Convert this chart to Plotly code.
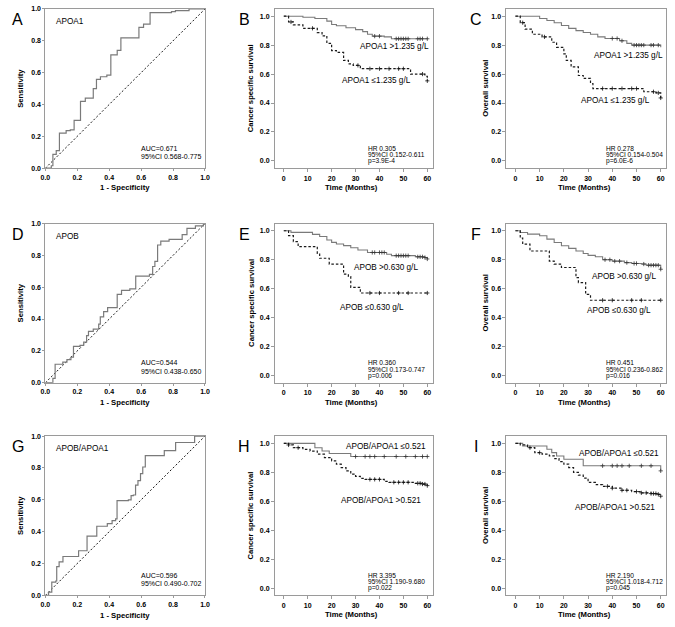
import numpy as np
import plotly.graph_objects as go

W, H = 675, 627

# ---------------- ROC data ----------------
fpr_A = [0, 0.037, 0.047, 0.068, 0.088, 0.13, 0.156, 0.18, 0.22, 0.25, 0.30, 0.32, 0.345, 0.385, 0.41, 0.45, 0.473, 0.586, 0.615, 0.656, 0.79, 0.815, 0.90, 1.0]
tpr_A = [0, 0.015, 0.087, 0.11, 0.22, 0.236, 0.24, 0.30, 0.42, 0.44, 0.50, 0.557, 0.574, 0.584, 0.712, 0.74, 0.818, 0.884, 0.905, 0.977, 0.983, 0.99, 1.0, 1.0]

fpr_D = [0, 0.047, 0.061, 0.109, 0.135, 0.16, 0.176, 0.217, 0.24, 0.258, 0.27, 0.30, 0.334, 0.344, 0.365, 0.39, 0.45, 0.477, 0.529, 0.566, 0.652, 0.672, 0.686, 0.703, 0.723, 0.775, 0.857, 0.887, 0.94, 0.99, 1.0]
tpr_D = [0, 0.027, 0.116, 0.13, 0.145, 0.16, 0.228, 0.235, 0.255, 0.296, 0.323, 0.337, 0.368, 0.414, 0.447, 0.472, 0.555, 0.58, 0.59, 0.669, 0.68, 0.73, 0.762, 0.865, 0.89, 0.9, 0.93, 0.97, 0.985, 1.0, 1.0]

fpr_G = [0, 0.02, 0.04, 0.065, 0.071, 0.086, 0.11, 0.208, 0.261, 0.322, 0.388, 0.418, 0.44, 0.449, 0.52, 0.537, 0.551, 0.565, 0.58, 0.596, 0.61, 0.626, 0.745, 0.816, 0.935, 1.0]
tpr_G = [0, 0.02, 0.083, 0.09, 0.18, 0.21, 0.244, 0.28, 0.372, 0.434, 0.45, 0.469, 0.48, 0.595, 0.60, 0.626, 0.63, 0.692, 0.72, 0.764, 0.806, 0.878, 0.909, 0.96, 1.0, 1.0]

# ---------------- Kaplan-Meier data ----------------
t_B_hi = [0, 8, 13, 18, 20, 22, 26, 30, 33, 35, 37, 42, 45, 60]
s_B_hi = [1, 0.993, 0.984, 0.966, 0.943, 0.934, 0.92, 0.907, 0.893, 0.875, 0.862, 0.857, 0.844, 0.844]
c_B_hi = [38, 40, 47, 48, 49, 50, 51, 52, 56, 57, 58, 60]
t_B_lo = [0, 2, 4, 8, 14, 16, 18, 20, 22, 25, 27, 29, 32, 53, 59, 60]
s_B_lo = [1, 0.96, 0.94, 0.916, 0.887, 0.864, 0.812, 0.762, 0.75, 0.694, 0.67, 0.66, 0.637, 0.6, 0.585, 0.553]
c_B_lo = [3, 12, 31, 36, 40, 44, 48, 50, 58, 60]

t_C_hi = [0, 10, 13, 16, 19, 22, 25, 28, 31, 34, 37, 43, 46, 48, 60]
s_C_hi = [1, 0.984, 0.97, 0.955, 0.936, 0.916, 0.90, 0.887, 0.875, 0.857, 0.846, 0.83, 0.812, 0.80, 0.785]
c_C_hi = [40, 42, 44, 49, 50, 51, 52, 53, 56, 57, 59]
t_C_lo = [0, 2, 4, 7, 11, 15, 17, 20, 21, 23, 26, 28, 31, 32, 53, 58, 60]
s_C_lo = [1, 0.955, 0.91, 0.875, 0.857, 0.82, 0.785, 0.74, 0.694, 0.65, 0.59, 0.57, 0.535, 0.50, 0.478, 0.47, 0.435]
c_C_lo = [3, 12, 36, 40, 44, 48, 50, 57, 59, 60]

t_E_hi = [0, 3, 12, 15, 18, 20, 22, 25, 28, 31, 35, 43, 45, 55, 59, 60]
s_E_hi = [1, 0.989, 0.975, 0.96, 0.936, 0.92, 0.908, 0.897, 0.883, 0.867, 0.85, 0.838, 0.828, 0.82, 0.815, 0.805]
c_E_hi = [37, 38, 40, 41, 42, 47, 48, 49, 50, 51, 52, 56, 57, 58, 59, 60]
t_E_lo = [0, 2, 4, 6, 14, 15, 19, 25, 27, 28, 32, 60]
s_E_lo = [1, 0.966, 0.925, 0.89, 0.844, 0.81, 0.769, 0.70, 0.684, 0.609, 0.57, 0.57]
c_E_lo = [36, 40, 48, 52, 60]

t_F_hi = [0, 2, 5, 10, 13, 16, 19, 22, 25, 28, 30, 33, 36, 40, 45, 48, 52, 54, 60]
s_F_hi = [1, 0.988, 0.977, 0.965, 0.942, 0.919, 0.896, 0.878, 0.86, 0.843, 0.83, 0.82, 0.80, 0.79, 0.78, 0.774, 0.77, 0.762, 0.734]
c_F_hi = [37, 39, 41, 43, 46, 49, 50, 53, 55, 56, 57, 58, 59, 60]
t_F_lo = [0, 2, 3, 6, 14, 16, 19, 25, 26, 29, 31, 60]
s_F_lo = [1, 0.95, 0.908, 0.86, 0.79, 0.77, 0.746, 0.676, 0.642, 0.56, 0.52, 0.52]
c_F_lo = [36, 40, 48, 52, 60]

t_H_lo = [0, 13, 16, 19, 28, 60]
s_H_lo = [1, 0.97, 0.947, 0.93, 0.909, 0.909]
c_H_lo = [30, 34, 36, 38, 42, 47, 51, 55, 58, 60]
t_H_hi = [0, 2, 4, 8, 11, 14, 17, 20, 22, 24, 26, 28, 30, 32, 34, 42, 44, 55, 58, 60]
s_H_hi = [1, 0.989, 0.97, 0.959, 0.947, 0.925, 0.902, 0.879, 0.856, 0.833, 0.81, 0.788, 0.772, 0.758, 0.751, 0.737, 0.731, 0.724, 0.719, 0.708]
c_H_hi = [2, 6, 36, 38, 40, 46, 48, 50, 52, 56, 57, 58, 59, 60]

t_I_lo = [0, 3, 13, 15, 17, 20, 28, 59, 60]
s_I_lo = [1, 0.982, 0.959, 0.936, 0.913, 0.89, 0.845, 0.845, 0.81]
c_I_lo = [36, 40, 42, 44, 47, 52, 56, 60]
t_I_hi = [0, 2, 5, 8, 11, 14, 16, 18, 20, 22, 24, 26, 28, 30, 33, 36, 40, 44, 48, 52, 56, 59, 60]
s_I_hi = [1, 0.989, 0.97, 0.936, 0.925, 0.913, 0.895, 0.874, 0.856, 0.833, 0.80, 0.78, 0.76, 0.73, 0.715, 0.703, 0.69, 0.676, 0.667, 0.658, 0.653, 0.648, 0.635]
c_I_hi = [6, 10, 38, 40, 44, 46, 50, 52, 54, 56, 57, 58, 59, 60]

# ---------------- texts ----------------
roc_names = ["APOA1", "APOB", "APOB/APOA1"]
roc_stats = [["AUC=0.671", "95%CI 0.568-0.775"],
             ["AUC=0.544", "95%CI 0.438-0.650"],
             ["AUC=0.596", "95%CI 0.490-0.702"]]
km_stats = {
    "B": ["HR 0.305", "95%CI 0.152-0.611", "p=3.9E-4"],
    "C": ["HR 0.278", "95%CI 0.154-0.504", "p=6.0E-6"],
    "E": ["HR 0.360", "95%CI 0.173-0.747", "p=0.006"],
    "F": ["HR 0.451", "95%CI 0.236-0.862", "p=0.016"],
    "H": ["HR 3.395", "95%CI 1.190-9.680", "p=0.022"],
    "I": ["HR 2.190", "95%CI 1.018-4.712", "p=0.045"],
}
group_labels = {
    "B": ["APOA1 >1.235 g/L", "APOA1 \u22641.235 g/L"],
    "C": ["APOA1 >1.235 g/L", "APOA1 \u22641.235 g/L"],
    "E": ["APOB >0.630 g/L", "APOB \u22640.630 g/L"],
    "F": ["APOB >0.630 g/L", "APOB \u22640.630 g/L"],
    "H": ["APOB/APOA1 \u22640.521", "APOB/APOA1 >0.521"],
    "I": ["APOB/APOA1 \u22640.521", "APOB/APOA1 >0.521"],
}
roc_ticks = [0, 0.2, 0.4, 0.6, 0.8, 1.0]
km_xticks = [0, 10, 20, 30, 40, 50, 60]
km_yticks = [0, 0.2, 0.4, 0.6, 0.8, 1.0]

FONT = "Arial, Liberation Sans, sans-serif"
SOLID = "#7a7a7a"
DASH = "#1a1a1a"
FRAME = "#9a9a9a"

# pixel layout of plot boxes
cols_px = [(41, 203), (274, 434), (509, 671)]
rows_px = [(5, 166), (222, 383), (437, 598)]


def px(x, y):
    return x / W, 1 - y / H


fig = go.Figure()
annotations = []


def ann(x, y, text, size, xanchor="left", bold=False, angle=0, color="black"):
    xp, yp = px(x, y)
    annotations.append(dict(x=xp, y=yp, xref="paper", yref="paper", text=text,
                            showarrow=False, xanchor=xanchor, yanchor="middle",
                            textangle=angle,
                            font=dict(family=FONT, size=size, color=color,
                                      weight="bold" if bold else "normal")))


def step_at(t, s, c):
    idx = np.searchsorted(np.array(t), np.array(c), side="right") - 1
    return [s[i] for i in idx]


axis_n = 0
layout_axes = {}

letters = [["A", "B", "C"], ["D", "E", "F"], ["G", "H", "I"]]
roc_data = [(fpr_A, tpr_A), (fpr_D, tpr_D), (fpr_G, tpr_G)]
km_data = {
    "B": ((t_B_hi, s_B_hi, c_B_hi), (t_B_lo, s_B_lo, c_B_lo)),
    "C": ((t_C_hi, s_C_hi, c_C_hi), (t_C_lo, s_C_lo, c_C_lo)),
    "E": ((t_E_hi, s_E_hi, c_E_hi), (t_E_lo, s_E_lo, c_E_lo)),
    "F": ((t_F_hi, s_F_hi, c_F_hi), (t_F_lo, s_F_lo, c_F_lo)),
    "H": ((t_H_lo, s_H_lo, c_H_lo), (t_H_hi, s_H_hi, c_H_hi)),
    "I": ((t_I_lo, s_I_lo, c_I_lo), (t_I_hi, s_I_hi, c_I_hi)),
}

tickfont = dict(family=FONT, size=7, color="black", weight="bold")

for r in range(3):
    top, bot = rows_px[r]
    for c in range(3):
        axis_n += 1
        left, right = cols_px[c]
        xa = "x" if axis_n == 1 else f"x{axis_n}"
        ya = "y" if axis_n == 1 else f"y{axis_n}"
        xkey = "xaxis" if axis_n == 1 else f"xaxis{axis_n}"
        ykey = "yaxis" if axis_n == 1 else f"yaxis{axis_n}"
        dom_x = [left / W, right / W]
        dom_y = [1 - bot / H, 1 - top / H]
        letter = letters[r][c]
        common = dict(showline=True, mirror=True, linecolor=FRAME, linewidth=1,
                      showgrid=False, zeroline=False, ticks="outside",
                      tickcolor=FRAME, tickfont=tickfont)
        if c == 0:
            fx, ty = roc_data[r]
            fig.add_trace(go.Scatter(x=[0, 1], y=[0, 1], mode="lines", xaxis=xa, yaxis=ya,
                                     line=dict(color=DASH, width=1, dash="2px,2px"),
                                     showlegend=False, hoverinfo="skip"))
            fig.add_trace(go.Scatter(x=fx, y=ty, mode="lines", xaxis=xa, yaxis=ya,
                                     line=dict(color=SOLID, width=1.2, shape="hv"),
                                     showlegend=False))
            layout_axes[xkey] = dict(domain=dom_x, anchor=ya, range=[0, 1], tickvals=roc_ticks,
                                     tickformat=".1f", ticklen=2, **common)
            layout_axes[ykey] = dict(domain=dom_y, anchor=xa, range=[0, 1], tickvals=roc_ticks,
                                     tickformat=".1f", ticklen=2, **common)
            ann(left + 9, top + 13, roc_names[r], 8.2)
            ann(left + 95, bot - 20, roc_stats[r][0], 7)
            ann(left + 95, bot - 11.5, roc_stats[r][1], 7)
            ann(15.5, (top + bot) / 2, "Sensitivity", 7.7, xanchor="center", bold=True, angle=-90)
            ann((left + right) / 2, bot + 20, "1 - Specificity", 7.7, xanchor="center", bold=True)
        else:
            (t1, s1, c1), (t2, s2, c2) = km_data[letter]
            # first listed group drawn solid, second dashed
            fig.add_trace(go.Scatter(x=t1, y=s1, mode="lines", xaxis=xa, yaxis=ya,
                                     line=dict(color=SOLID, width=1.1, shape="hv"),
                                     showlegend=False))
            fig.add_trace(go.Scatter(x=c1, y=step_at(t1, s1, c1), mode="markers", xaxis=xa, yaxis=ya,
                                     marker=dict(symbol="cross-thin", size=3,
                                                 line=dict(color="#333", width=0.8)),
                                     showlegend=False))
            fig.add_trace(go.Scatter(x=t2, y=s2, mode="lines", xaxis=xa, yaxis=ya,
                                     line=dict(color=DASH, width=1.2, shape="hv", dash="2.5px,2px"),
                                     showlegend=False))
            fig.add_trace(go.Scatter(x=c2, y=step_at(t2, s2, c2), mode="markers", xaxis=xa, yaxis=ya,
                                     marker=dict(symbol="cross-thin", size=3,
                                                 line=dict(color="#111", width=0.8)),
                                     showlegend=False))
            layout_axes[xkey] = dict(domain=dom_x, anchor=ya, range=[-3.7, 62.2], tickvals=km_xticks,
                                     ticklen=3, **common)
            layout_axes[ykey] = dict(domain=dom_y, anchor=xa, range=[-0.05, 1.05], tickvals=km_yticks,
                                     tickformat=".1f", ticklen=3, **common)
            ytitle = "Cancer specific survival" if c == 1 else "Overall survival"
            ann(left - 24.5 if c == 1 else left - 21.5, (top + bot) / 2, ytitle, 7.7,
                xanchor="center", bold=True, angle=-90)
            ann((left + right) / 2 - 2, bot + 19.5, "Time (Months)", 7.7, xanchor="center", bold=True)
            st = km_stats[letter]
            for k, line in enumerate(st):
                ann(left + 92 if c == 1 else left + 99, bot - 20 + 6.5 * k, line, 6.6)
        ann({0: 13, 1: 243, 2: 478}[c], top + 11, letter, 16, xanchor="center")

# group labels (pixel positions)
lab_pos = {
    "B": [(395, 43), (377, 77.5)],
    "C": [(633, 52), (620, 98)],
    "E": [(387, 266), (373, 307)],
    "F": [(628, 276), (623, 310)],
    "H": [(387, 448), (382, 502)],
    "I": [(623, 455), (619, 509)],
}
for key, pts in lab_pos.items():
    for (x, y), txt in zip(pts, group_labels[key]):
        ann(x, y, txt, 8.2, xanchor="center")

fig.update_layout(width=W, height=H, margin=dict(l=0, r=0, t=0, b=0),
                  paper_bgcolor="white", plot_bgcolor="white",
                  font=dict(family=FONT), annotations=annotations, **layout_axes)

fig.write_html("out.html", config={"displayModeBar": False},
               post_script="document.body.style.margin='0px';document.body.style.overflow='hidden';")
